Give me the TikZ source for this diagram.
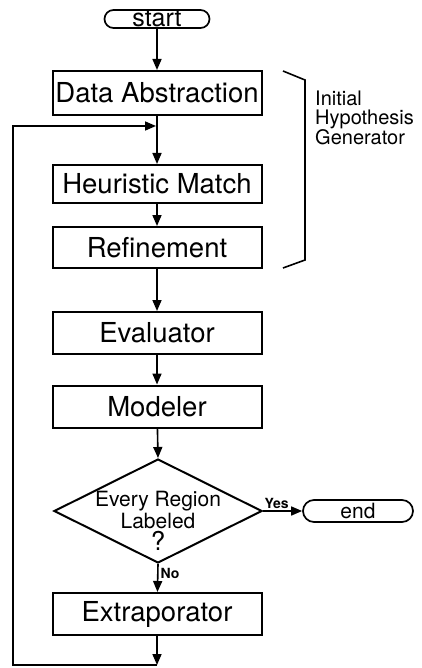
\documentclass[tikz,border=0pt]{standalone}
\usepackage{fontspec}
\setmainfont{TeX Gyre Heros}
\usetikzlibrary{shapes.geometric,shapes.misc,arrows.meta,positioning}

\begin{document}
\begin{tikzpicture}[x=1pt, y=-1pt,
    process/.style={draw, line width=2pt, minimum width=209pt, minimum height=42pt,
        inner sep=0pt, font=\fontsize{27.5}{30}\selectfont},
    terminal/.style={draw, rounded rectangle, line width=1.7pt, inner sep=0pt},
    decision/.style={draw, diamond, line width=2pt, inner sep=0pt,
        minimum width=208pt, minimum height=104pt},
    arrow/.style={-{Triangle[length=11pt,width=9pt]}, line width=1.6pt},
    flow/.style={line width=1.6pt},
    tag/.style={font=\bfseries\fontsize{14}{16}\selectfont, inner sep=2pt}]
    \useasboundingbox (0,0) rectangle (421,668);
    % terminals
    \node[terminal, minimum width=105pt, minimum height=18pt, text height=16pt, text depth=0pt,
        inner ysep=1pt, font=\fontsize{25}{27}\selectfont] (start) at (157,19) {start};
    \node[terminal, minimum width=110pt, minimum height=22pt,
        font=\fontsize{21}{22}\selectfont] (end) at (358,511) {end};
    % boxes
    \node[process, minimum height=44pt] (abstr) at (157,93) {Data Abstraction};
    \node[process, minimum height=38pt] (match) at (157,184) {Heuristic Match};
    \node[process, minimum height=41pt] (refine) at (157,247.5) {Refinement};
    \node[process] (eval) at (157,333) {Evaluator\hspace{20pt}};
    \node[process] (model) at (157,406.5) {Modeler\hspace{20pt}};
    \node[decision] (check) at (158,511) {};
    \node[align=center, inner sep=0pt, font=\fontsize{21}{21.5}\selectfont] (checktext) at (158,521)
        {Every Region\\Labeled\\[1pt]{\fontsize{26}{26}\selectfont ?}};
    \node[process] (extra) at (157,614) {Extraporator};
    % bracket and its label
    \draw[line width=1.6pt] (283,71) -- (305,80) -- (305,260) -- (283,268);
    \node[anchor=north west, align=left, inner sep=0pt, font=\fontsize{20}{18.5}\selectfont] (igen) at (315,91)
        {Initial\\Hypothesis\\Generator};
    % connectors
    \coordinate (merge) at (157,126);
    \coordinate (loopend) at (157,665);
    \coordinate (loopcorner) at (13,665);
    \coordinate (looptop) at (13,126);
    \draw[arrow] (start) -- (abstr);
    \draw[arrow] (abstr) -- (match);
    \draw[arrow] (match) -- (refine);
    \draw[arrow] (refine) -- (eval);
    \draw[arrow] (eval) -- (model);
    \draw[arrow] (model) -- (check.north);
    \draw[arrow] (check.east) -- node[tag, above, pos=0.35] {Yes} (end);
    \draw[arrow] (check.south) -- node[tag, right, pos=0.35] {No} (extra);
    \draw[arrow] (extra) -- (loopend);
    \draw[flow, -{Triangle[length=11pt,width=9pt]}] (loopend) -- (loopcorner) -- (looptop) -- ([xshift=-1pt]merge);
\end{tikzpicture}
\end{document}
